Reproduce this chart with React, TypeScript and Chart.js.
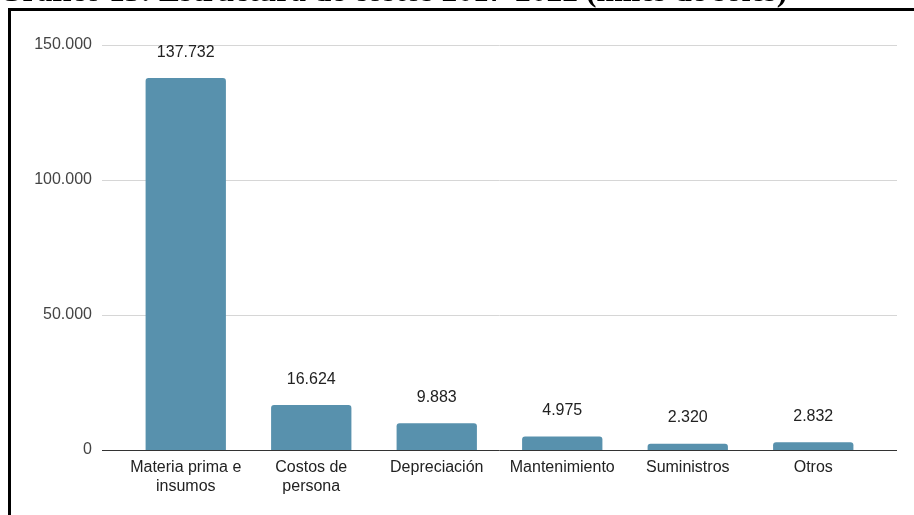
import React, { useEffect, useRef } from "react";
import { Chart, registerables } from "chart.js";

Chart.register(...registerables);

const categories: (string | string[])[] = [
  ["Materia prima e", "insumos"],
  ["Costos de", "persona"],
  "Depreciación",
  "Mantenimiento",
  "Suministros",
  "Otros",
];
const values: number[] = [137732, 16624, 9883, 4975, 2320, 2832];
const yTicks: number[] = [0, 50000, 100000, 150000];
const titleText = "Gráfico 13: Estructura de costos 2017-2022 (miles de soles)";

const fmt = (v: number) =>
  Math.round(v)
    .toString()
    .replace(/\B(?=(\d{3})+(?!\d))/g, ".");

const FONT = "'Liberation Sans', Arial, sans-serif";

const gridPlugin = {
  id: "gridPlugin",
  beforeDatasetsDraw(chart: any) {
    const { ctx } = chart;
    const y = chart.scales.y;
    ctx.save();
    ctx.strokeStyle = "#d6d6d6";
    ctx.lineWidth = 1;
    yTicks.forEach((t) => {
      if (t === 0) return;
      const py = Math.round(y.getPixelForValue(t)) + 0.5;
      ctx.beginPath();
      ctx.moveTo(102, py);
      ctx.lineTo(897, py);
      ctx.stroke();
    });
    ctx.restore();
  },
  afterDatasetsDraw(chart: any) {
    const { ctx } = chart;
    const y = chart.scales.y;
    ctx.save();
    ctx.strokeStyle = "#333333";
    ctx.lineWidth = 1;
    const py = Math.round(y.getPixelForValue(0)) + 0.5;
    ctx.beginPath();
    ctx.moveTo(102, py);
    ctx.lineTo(897, py);
    ctx.stroke();
    const meta = chart.getDatasetMeta(0);
    ctx.fillStyle = "#222222";
    ctx.font = `16px ${FONT}`;
    ctx.textAlign = "center";
    ctx.textBaseline = "middle";
    meta.data.forEach((bar: any, i: number) => {
      ctx.fillText(fmt(values[i]), bar.x, bar.y - 26);
    });
    ctx.restore();
  },
};

export default function App() {
  const canvasRef = useRef<HTMLCanvasElement>(null);

  useEffect(() => {
    if (!canvasRef.current) return;
    const chart = new Chart(canvasRef.current, {
      type: "bar",
      data: {
        labels: categories,
        datasets: [
          {
            data: values,
            backgroundColor: "#5891AD",
            borderRadius: { topLeft: 3, topRight: 3, bottomLeft: 0, bottomRight: 0 },
            borderSkipped: false,
            barPercentage: 0.64,
            categoryPercentage: 1,
          },
        ],
      },
      options: {
        animation: false,
        responsive: false,
        maintainAspectRatio: false,
        layout: { padding: { left: 8, right: 38, top: 45, bottom: 0 } },
        plugins: {
          legend: { display: false },
          tooltip: { enabled: false },
          title: { display: false },
        },
        scales: {
          x: {
            offset: true,
            grid: { display: false, drawTicks: false },
            border: { display: false },
            ticks: {
              color: "#222222",
              padding: 8,
              maxRotation: 0,
              autoSkip: false,
              font: { family: FONT, size: 16, lineHeight: 1.2 },
            },
            afterFit: (s: any) => {
              s.height = 65;
            },
          },
          y: {
            min: 0,
            max: 150000,
            afterBuildTicks: (s: any) => {
              s.ticks = yTicks.map((v) => ({ value: v }));
            },
            grid: { display: false, drawTicks: false },
            border: { display: false },
            ticks: {
              color: "#444444",
              padding: 31,
              font: { family: FONT, size: 16 },
              callback: (v: any) => fmt(Number(v)),
            },
            afterFit: (s: any) => {
              s.width = 115;
            },
          },
        },
      },
      plugins: [gridPlugin],
    });
    return () => chart.destroy();
  }, []);

  return (
    <div
      style={{
        position: "fixed",
        left: 0,
        top: 0,
        width: 914,
        height: 515,
        background: "#ffffff",
        overflow: "hidden",
      }}
    >
      <canvas
        ref={canvasRef}
        width={914}
        height={515}
        style={{ position: "absolute", left: 0, top: 0, width: 914, height: 515 }}
      />
      <div
        style={{
          position: "absolute",
          left: 8,
          top: 8,
          width: 920,
          height: 520,
          borderTop: "3px solid #000",
          borderLeft: "3px solid #000",
          boxSizing: "border-box",
          pointerEvents: "none",
        }}
      />
      <div
        style={{
          position: "absolute",
          left: -2,
          top: -25,
          fontFamily: "'Liberation Serif', 'Times New Roman', serif",
          fontWeight: "bold",
          fontSize: 31.5,
          lineHeight: "31px",
          whiteSpace: "nowrap",
          color: "#000",
        }}
      >
        {titleText}
      </div>
    </div>
  );
}
